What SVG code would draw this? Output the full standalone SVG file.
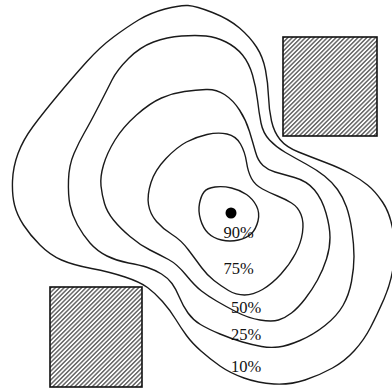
<svg xmlns="http://www.w3.org/2000/svg" width="392" height="389" viewBox="0 0 392 389">
<style>
.c{fill:none;stroke:#1a1a1a;stroke-width:1.4;stroke-linejoin:round}
.box{fill:url(#hatch);stroke:#111;stroke-width:1.6}
.lbl{font-family:"Liberation Serif","Times New Roman",serif;font-size:16.5px;fill:#111;text-anchor:middle}
</style>
<defs>
<pattern id="hatch" width="3.1" height="3.1" patternUnits="userSpaceOnUse" patternTransform="rotate(45)">
<line x1="0.75" y1="0" x2="0.75" y2="3.1" stroke="#4a4a4a" stroke-width="1.25"/>
</pattern>
</defs>
<rect width="392" height="389" fill="#fff"/>
<g id="box-top-right"><rect class="box" x="283" y="37" width="94" height="99"/></g>
<g id="box-bottom-left"><rect class="box" x="50" y="287" width="92" height="100"/></g>
<g id="contours">
<path id="c10" class="c" d="M165,9 Q180,5 188,5.5 Q196,6 212.5,12.5 Q229,19 239.5,28 Q250,37 256.5,47 Q263,57 265.5,70 Q268,83 268.5,96.5 Q269,110 271.5,121 Q274,132 280,139.5 Q286,147 298.5,152 Q311,157 325.5,162.5 Q340,168 350,173.5 Q360,179 367.5,185 Q375,191 382.5,202 Q390,213 393,230.5 Q396,248 393.5,265.5 Q391,283 384,299 Q377,315 370.5,327.5 Q364,340 354.5,350.5 Q345,361 332.5,368 Q320,375 305,380 Q290,385 274,384 Q258,383 244,378 Q230,373 220,366 Q210,359 201,351 Q192,343 186.5,335.5 Q181,328 175.5,319 Q170,310 162.5,301.5 Q155,293 147.5,287.5 Q140,282 125,277 Q110,272 91.5,268.5 Q73,265 61.5,260 Q50,255 40,245 Q30,235 23.5,225 Q17,215 14.5,205 Q12,195 12.5,181 Q13,167 18,153.5 Q23,140 33,126.5 Q43,113 58,95 Q73,77 86.5,62 Q100,47 113.5,37 Q127,27 138.5,20 Q150,13 165,9 Z"/>
<path id="c25" class="c" d="M153.5,42 Q167,37 181.5,36 Q196,35 206,36 Q216,37 226,42 Q236,47 242.5,55 Q249,63 252.5,75 Q256,87 257.5,100 Q259,113 261,123 Q263,133 269.5,140 Q276,147 285.5,152.5 Q295,158 306,164 Q317,170 324.5,176 Q332,182 337.5,189.5 Q343,197 346.5,207 Q350,217 352,231 Q354,245 354,256.5 Q354,268 351.5,281.5 Q349,295 343,305.5 Q337,316 325,325.5 Q313,335 300,340.5 Q287,346 278.5,347 Q270,348 261.5,346.5 Q253,345 242.5,342 Q232,339 220,334 Q208,329 200.5,324.5 Q193,320 188,313 Q183,306 179.5,297.5 Q176,289 172,283.5 Q168,278 161.5,274 Q155,270 147.5,267.5 Q140,265 128.5,263 Q117,261 107,256 Q97,251 90,243 Q83,235 77.5,225 Q72,215 70,205 Q68,195 68.5,180 Q69,165 74,153.5 Q79,142 84.5,132.5 Q90,123 98.5,106.5 Q107,90 112,80 Q117,70 128.5,58.5 Q140,47 153.5,42 Z"/>
<path id="c50" class="c" d="M161.5,98 Q173,93 184.5,91.5 Q196,90 206,89.5 Q216,89 224.5,94.5 Q233,100 239.5,110 Q246,120 249.5,131.5 Q253,143 255.5,152 Q258,161 263,165.5 Q268,170 275,172 Q282,174 294.5,177.5 Q307,181 314.5,190 Q322,199 326,213 Q330,227 330,237.5 Q330,248 326.5,259 Q323,270 317.5,280 Q312,290 305,299 Q298,308 291.5,313 Q285,318 278.5,320 Q272,322 260,320 Q248,318 236.5,312 Q225,306 216.5,301 Q208,296 201.5,291 Q195,286 186,275 Q177,264 168.5,259.5 Q160,255 150,250 Q140,245 130,236.5 Q120,228 113.5,220 Q107,212 104.5,203.5 Q102,195 101,186 Q100,177 103.5,165 Q107,153 115,140 Q123,127 136.5,115 Q150,103 161.5,98 Z"/>
<path id="c75" class="c" d="M186.5,142 Q196,137 207,134.5 Q218,132 227,134 Q236,136 240.5,144 Q245,152 246.5,162 Q248,172 251.5,178.5 Q255,185 262.5,189 Q270,193 277.5,196 Q285,199 291.5,203 Q298,207 301,214.5 Q304,222 302.5,232.5 Q301,243 295.5,253.5 Q290,264 281,274 Q272,284 262.5,289.5 Q253,295 244.5,295 Q236,295 228.5,290.5 Q221,286 214,280.5 Q207,275 201.5,267.5 Q196,260 188.5,250 Q181,240 172,234.5 Q163,229 156.5,221.5 Q150,214 148.5,204.5 Q147,195 151,182.5 Q155,170 166,158.5 Q177,147 186.5,142 Z"/>
<path id="c90" class="c" d="M204,192 Q207,188 215,187 Q223,186 231.5,188 Q240,190 246.5,194.5 Q253,199 256.5,206 Q260,213 258,221 Q256,229 251.5,233.5 Q247,238 238.5,240 Q230,242 221.5,240 Q213,238 208,233 Q203,228 200.5,219.5 Q198,211 199.5,203.5 Q201,196 204,192 Z"/>
</g>
<g id="source"><circle cx="231" cy="213" r="5.5" fill="#000"/></g>
<g id="labels">
<text class="lbl" x="238.5" y="238">90%</text>
<text class="lbl" x="238.5" y="274">75%</text>
<text class="lbl" x="246" y="313">50%</text>
<text class="lbl" x="246" y="340">25%</text>
<text class="lbl" x="246" y="372">10%</text>
</g>
</svg>
